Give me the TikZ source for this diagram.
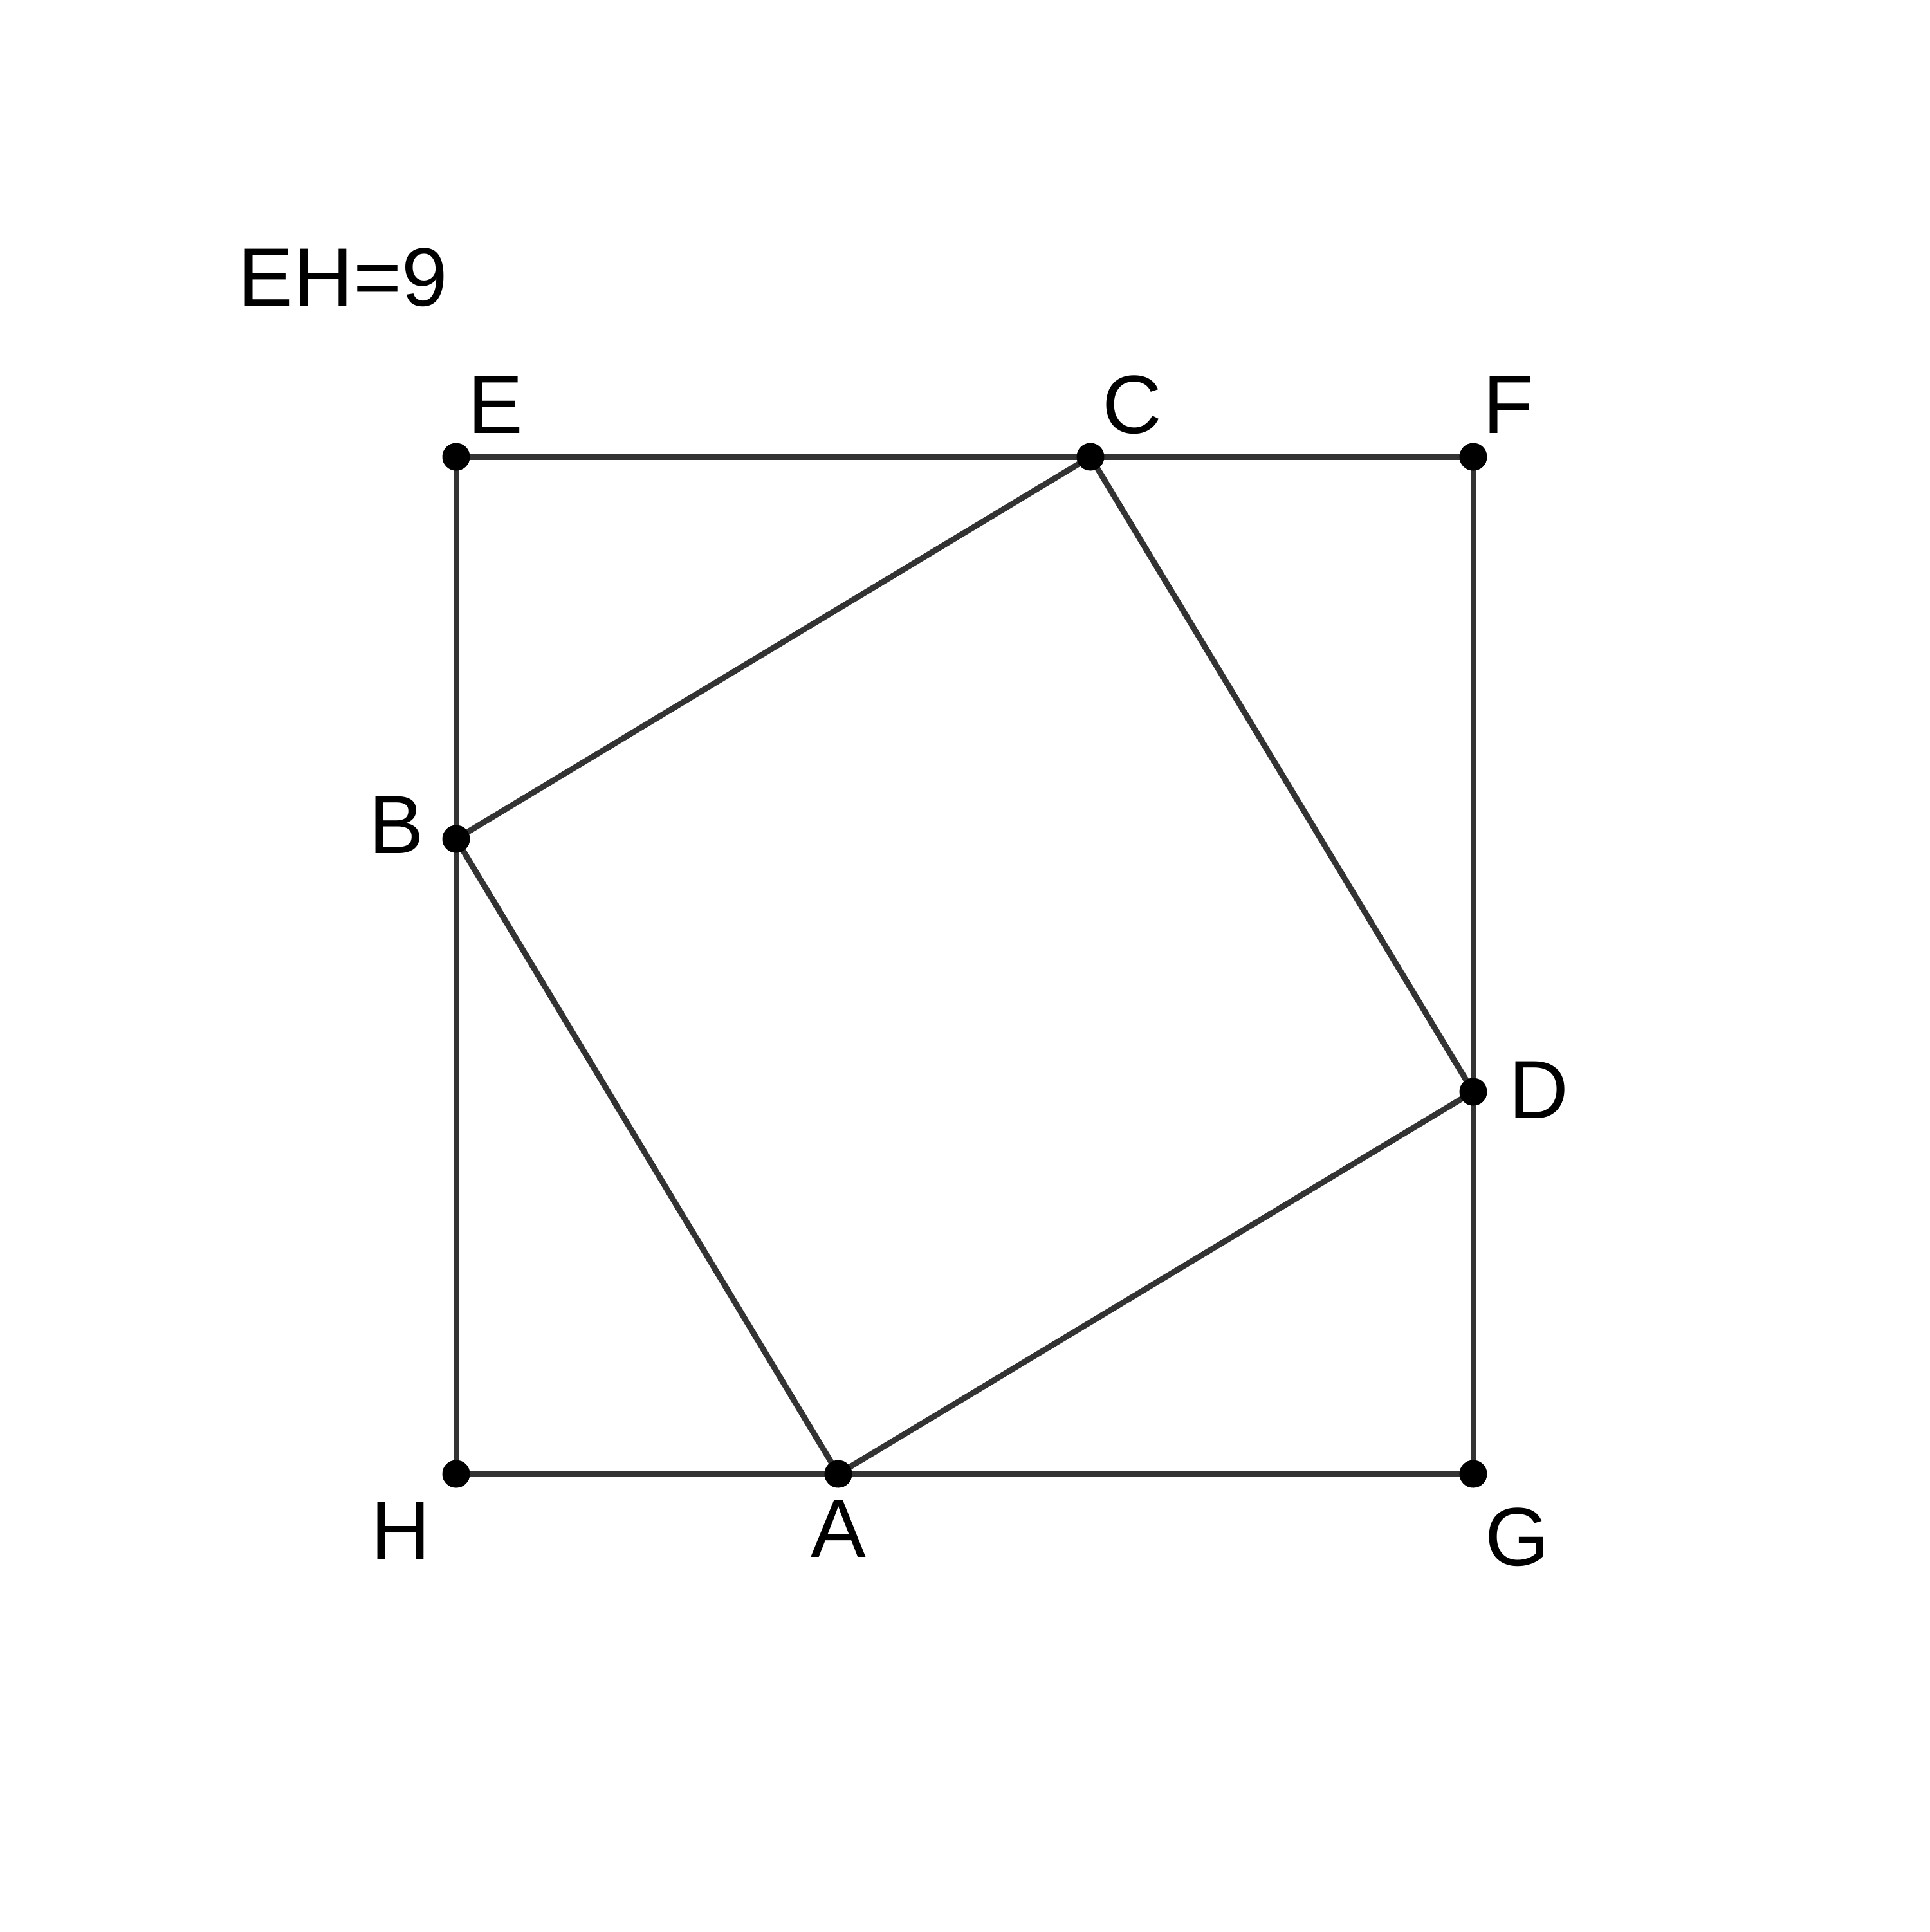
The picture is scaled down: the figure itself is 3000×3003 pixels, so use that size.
\documentclass[tikz,border=0pt]{standalone}
\usepackage{fontspec}
\setmainfont{Liberation Sans}
\definecolor{lineg}{HTML}{333333}
\begin{document}
\begin{tikzpicture}[x=0.1pt,y=-0.1pt,
  seg/.style={draw=lineg, line width=0.9pt},
  dotpt/.style={circle, fill=black, inner sep=0pt, minimum size=4.3pt},
  lab/.style={anchor=base, inner sep=0pt, font=\fontsize{12.85pt}{15pt}\selectfont}]
\useasboundingbox (0,0) rectangle (3000,3003);
% points
\coordinate (E) at (709,710);
\coordinate (F) at (2290,710);
\coordinate (G) at (2290,2291);
\coordinate (H) at (709,2291);
\coordinate (C) at (1695,710);
\coordinate (B) at (709,1304);
\coordinate (D) at (2290,1697);
\coordinate (A) at (1303,2291);
% square EFGH
\draw[seg] (E) -- (C) -- (F) -- (D) -- (G) -- (A) -- (H) -- (B) -- (E);
% inner square ABCD
\draw[seg] (A) -- (B) -- (C) -- (D) -- (A);
% dots
\foreach \p in {A,B,C,D,E,F,G,H}{\node[dotpt] (dot\p) at (\p) {};}
% labels
\node[lab] (lE) at (770,673) {E};
\node[lab] (lC) at (1760,673) {C};
\node[lab] (lF) at (2345,673) {F};
\node[lab] (lB) at (616,1326) {B};
\node[lab] (lD) at (2392,1738) {D};
\node[lab] (lH) at (623,2423) {H};
\node[lab] (lA) at (1303,2420) {A};
\node[lab] (lG) at (2358,2433) {G};
\node[lab, anchor=base west] (lEH) at (369,475) {EH=9};
\end{tikzpicture}
\end{document}
